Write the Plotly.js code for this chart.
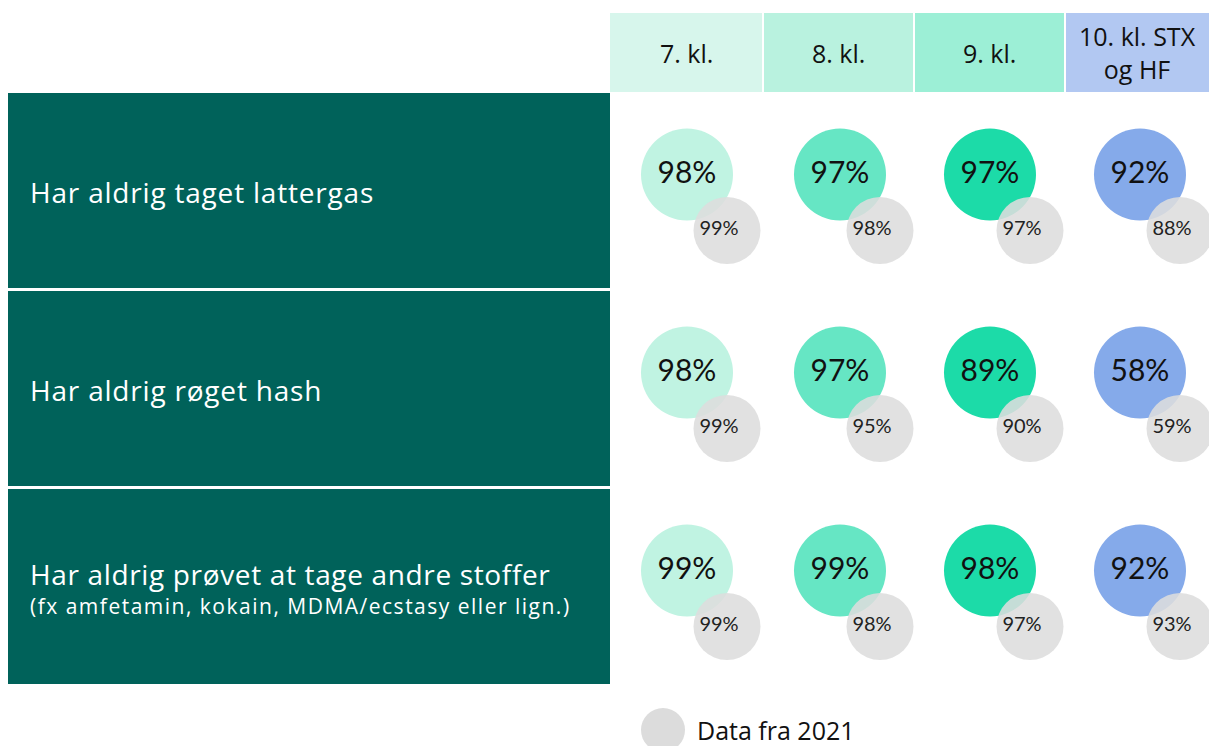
<!DOCTYPE html>
<html>
<head>
<meta charset="utf-8">
<script src="https://cdn.plot.ly/plotly-3.0.1.min.js"></script>
<style>html,body{margin:0;padding:0;background:#fff;}#chart{width:1209px;height:746px;}</style>
</head>
<body>
<div id="chart"></div>
<script>
// ---- data ----
var grades = ['7. kl.', '8. kl.', '9. kl.', '10. kl. STX<br>og HF'];
var questions = ['Har aldrig taget lattergas', 'Har aldrig røget hash', 'Har aldrig prøvet at tage andre stoffer'];
var questionNotes = ['', '', '(fx amfetamin, kokain, MDMA/ecstasy eller lign.)'];
var values2023 = [
  [98, 97, 97, 92],
  [98, 97, 89, 58],
  [99, 99, 98, 92]
];
var values2021 = [
  [99, 98, 97, 88],
  [99, 95, 90, 59],
  [99, 98, 97, 93]
];
var legendLabel = 'Data fra 2021';

// ---- styles / layout constants ----
var FONT = '"Open Sans", Lato, sans-serif';
var NUMFONT = 'Lato, "Open Sans", sans-serif';
var headerColors = ['#d7f6ec', '#b9f2df', '#9cefd6', '#b2c8f2'];
var circleColors = ['#c0f3e2', '#66e6c4', '#1cdba8', '#85aaea'];
var rowColor = '#00625a';
var grayColor = 'rgba(221,221,221,0.88)';
var colCenters = [687, 840, 990, 1140];
var colEdges = [[610, 762], [764, 913], [915, 1064], [1066, 1209]];
var rowEdges = [[93, 288], [291, 486], [489, 684]];
var bigR = 92, smallR = 67, dx = 40, dy = 56;

var traces = [];
var shapes = [];
var annotations = [];
var spacing = {}; // annotation index -> letter spacing (px)

function rowCy(r) { return (rowEdges[r][0] + rowEdges[r][1]) / 2 - 16; }

// header cells
grades.forEach(function (g, i) {
  shapes.push({type: 'rect', xref: 'x', yref: 'y', x0: colEdges[i][0], x1: colEdges[i][1], y0: 13, y1: 92,
    fillcolor: headerColors[i], line: {width: 0}, layer: 'below'});
  annotations.push({x: (colEdges[i][0] + colEdges[i][1]) / 2, y: 52.5, xref: 'x', yref: 'y', text: g,
    showarrow: false, font: {family: FONT, size: 25, color: '#111'}, xanchor: 'center', yanchor: 'middle'});
});

// row boxes and labels
questions.forEach(function (q, r) {
  shapes.push({type: 'rect', xref: 'x', yref: 'y', x0: 8, x1: 610, y0: rowEdges[r][0], y1: rowEdges[r][1],
    fillcolor: rowColor, line: {width: 0}, layer: 'below'});
  var mid = (rowEdges[r][0] + rowEdges[r][1]) / 2;
  if (questionNotes[r]) {
    spacing[annotations.length] = 0.65;
    annotations.push({x: 28, y: mid - 13, xref: 'x', yref: 'y', text: q, showarrow: false,
      font: {family: FONT, size: 28, color: '#fff'}, xanchor: 'left', yanchor: 'middle'});
    spacing[annotations.length] = 1.5;
    annotations.push({x: 28, y: mid + 19, xref: 'x', yref: 'y', text: questionNotes[r], showarrow: false,
      font: {family: FONT, size: 21, color: '#fff'}, xanchor: 'left', yanchor: 'middle'});
  } else {
    spacing[annotations.length] = 0.8;
    annotations.push({x: 28, y: mid + 1, xref: 'x', yref: 'y', text: q, showarrow: false,
      font: {family: FONT, size: 28, color: '#fff'}, xanchor: 'left', yanchor: 'middle'});
  }
});

// big circles (current data) per grade
grades.forEach(function (g, i) {
  traces.push({
    type: 'scatter', mode: 'markers', hoverinfo: 'skip', showlegend: false,
    x: questions.map(function () { return colCenters[i]; }),
    y: questions.map(function (q, r) { return rowCy(r); }),
    marker: {size: bigR, color: circleColors[i], line: {width: 0}}
  });
});
// small gray circles (2021)
grades.forEach(function (g, i) {
  traces.push({
    type: 'scatter', mode: 'markers', hoverinfo: 'skip', showlegend: false,
    x: questions.map(function () { return colCenters[i] + dx; }),
    y: questions.map(function (q, r) { return rowCy(r) + dy; }),
    marker: {size: smallR, color: grayColor, line: {width: 0}}
  });
  traces.push({
    type: 'scatter', mode: 'text', hoverinfo: 'skip', showlegend: false,
    x: questions.map(function () { return colCenters[i] + dx - 8; }),
    y: questions.map(function (q, r) { return rowCy(r) + dy - 1; }),
    text: values2021.map(function (row) { return row[i] + '%'; }),
    textposition: 'middle center',
    textfont: {family: NUMFONT, size: 20, color: '#222'}
  });
});
// big value labels
grades.forEach(function (g, i) {
  traces.push({
    type: 'scatter', mode: 'text', hoverinfo: 'skip', showlegend: false,
    x: questions.map(function () { return colCenters[i]; }),
    y: questions.map(function (q, r) { return rowCy(r) + 1; }),
    text: values2023.map(function (row) { return row[i] + '%'; }),
    textposition: 'middle center',
    textfont: {family: NUMFONT, size: 30, color: '#111'}
  });
});

// legend marker
traces.push({
  type: 'scatter', mode: 'markers', hoverinfo: 'skip', showlegend: false,
  x: [663], y: [730], marker: {size: 44, color: '#dcdcdc', line: {width: 0}}
});
annotations.push({x: 695, y: 730, xref: 'x', yref: 'y', text: legendLabel, showarrow: false,
  font: {family: FONT, size: 25, color: '#111'}, xanchor: 'left', yanchor: 'middle'});

var layout = {
  width: 1209, height: 746,
  margin: {l: 0, r: 0, t: 0, b: 0, pad: 0},
  paper_bgcolor: '#fff', plot_bgcolor: '#fff',
  xaxis: {range: [0, 1209], visible: false, fixedrange: true},
  yaxis: {range: [746, 0], visible: false, fixedrange: true},
  shapes: shapes,
  annotations: annotations,
  showlegend: false
};

Plotly.newPlot('chart', traces, layout, {displayModeBar: false, staticPlot: true}).then(function (gd) {
  var anns = gd.querySelectorAll('g.annotation');
  anns.forEach(function (a) {
    var idx = +a.getAttribute('data-index');
    if (spacing[idx] !== undefined) {
      var t = a.querySelector('text.annotation-text');
      if (t) {
        var n = (t.textContent || '').length;
        t.style.letterSpacing = spacing[idx] + 'px';
        // text is centred on its box: keep its left edge in place
        t.setAttribute('transform', 'translate(' + (spacing[idx] * n / 2) + ',0)');
      }
    }
  });
});
</script>
</body>
</html>
